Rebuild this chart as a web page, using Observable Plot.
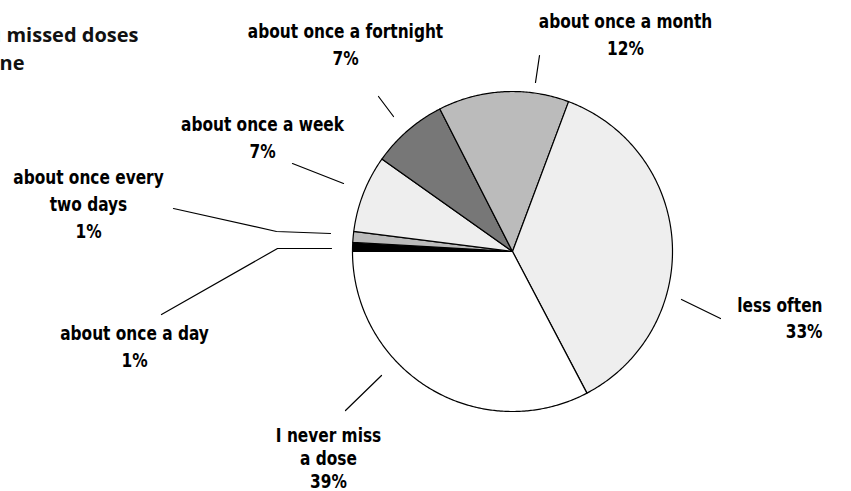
<!DOCTYPE html>
<html><head><meta charset="utf-8">
<script src="https://cdn.jsdelivr.net/npm/d3@7"></script>
<script src="https://cdn.jsdelivr.net/npm/@observablehq/plot@0.6"></script>
<style>
body{margin:0;background:#fff;}
#chart{position:relative;width:851px;height:491px;overflow:hidden;}
</style></head><body><div id="chart"></div>
<script>
// ---- data ----
const categories = ["about once a day","about once every two days","about once a week","about once a fortnight","about once a month","less often","I never miss a dose"];
// slice sizes as drawn in the picture (degrees of the pie converted to %)
const sliceShares = [0.9, 1.1, 7.8, 7.7, 13.2, 36.6, 32.7];
// percentages printed on the labels
const labelPercents = [1, 1, 7, 7, 12, 33, 39];
const labelNames = ["about once a day","about once every\ntwo days","about once a week","about once a fortnight","about once a month","less often","I never miss\na dose"];
const sliceFills = ["#000000","#bbbbbb","#eeeeee","#777777","#bbbbbb","#eeeeee","#ffffff"];
const titleLines = ["How often have you missed doses","of your medicine"];

// ---- layout ----
const W = 851, H = 491, cx = 512, cy = 251, R = 160;
const labelLayout = {
  "about once a day":          {x: 134, y: 344, anchor: "middle", lh: 1.42},
  "about once every two days": {x: 88,  y: 202, anchor: "middle", lh: 1.42},
  "about once a week":         {x: 262, y: 135, anchor: "middle", lh: 1.42},
  "about once a fortnight":    {x: 345, y: 42,  anchor: "middle", lh: 1.42},
  "about once a month":        {x: 625, y: 32,  anchor: "middle", lh: 1.42},
  "less often":                {x: 822, y: 316, anchor: "end",    lh: 1.38},
  "I never miss a dose":       {x: 328, y: 457, anchor: "middle", lh: 1.2}
};
const leaderLayout = {
  "about once a day":          [[161,314],[277,248],[331,248]],
  "about once every two days": [[173,208],[276,231],[330,233]],
  "about once a week":         [[292,163],[343,183]],
  "about once a fortnight":    [[378,96],[393,116]],
  "about once a month":        [[539,55],[535,82]],
  "less often":                [[681,299],[720,318]],
  "I never miss a dose":       [[381,375],[345,410]]
};
const titleLayout = [{x: 138, y: 35}, {x: 24, y: 63}];

// ---- build slices (clockwise from the left, going up first) ----
const total = d3.sum(sliceShares);
const slicePts = [];
let acc = 0;
categories.forEach((c, i) => {
  const a0 = acc / total * 2 * Math.PI;
  acc += sliceShares[i];
  const a1 = acc / total * 2 * Math.PI;
  const n = Math.max(2, Math.ceil((a1 - a0) / 0.01));
  slicePts.push({cat: c, fill: sliceFills[i], x: cx, y: cy});
  for (let k = 0; k <= n; k++) {
    const t = a0 + (a1 - a0) * k / n;
    slicePts.push({cat: c, fill: sliceFills[i], x: cx - R * Math.cos(t), y: cy - R * Math.sin(t)});
  }
  slicePts.push({cat: c, fill: sliceFills[i], x: cx, y: cy});
});

const labels = categories.map((c, i) => ({
  cat: c, text: labelNames[i] + "\n" + labelPercents[i] + "%", ...labelLayout[c]
}));
const leaders = categories.flatMap(c => leaderLayout[c].map(([x, y]) => ({cat: c, x, y})));
const titles = titleLines.map((t, i) => ({text: t, ...titleLayout[i]}));

const textOpts = {fontFamily: "'DejaVu Sans',sans-serif", fontWeight: "bold", fontSize: 19, fill: "#000", lineAnchor: "middle"};
const labelMarks = labels.map(d => Plot.text([d], {...textOpts, lineHeight: d.lh, x: "x", y: "y", text: "text", textAnchor: d.anchor}));

const plot = Plot.plot({
  width: W, height: H, margin: 0,
  x: {domain: [0, W], range: [0, W], axis: null},
  y: {domain: [0, H], range: [0, H], axis: null},
  color: {type: "identity"},
  style: {background: "#fff", overflow: "hidden"},
  marks: [
    Plot.line(slicePts, {x: "x", y: "y", z: "cat", fill: "fill", stroke: "#000", strokeWidth: 1.2, strokeLinejoin: "round"}),
    Plot.line(leaders, {x: "x", y: "y", z: "cat", stroke: "#000", strokeWidth: 1.2}),
    ...labelMarks,
    Plot.text(titles, {x: "x", y: "y", text: "text", textAnchor: "end", lineAnchor: "middle",
      fontFamily: "'Open Sans','Noto Sans',sans-serif", fontWeight: "bold", fontSize: 20, fill: "#111"})
  ]
});
// condense the label type horizontally (the original uses a bold condensed face)
Array.from(plot.querySelectorAll("text")).filter(t => t.textContent.includes("%")).forEach(t => {
  let X = 0, Y = 0;
  const tr = t.getAttribute("transform");
  const m = tr && tr.match(/translate\(\s*([-\d.e]+)[ ,]+([-\d.e]+)\s*\)/);
  if (m) { X = +m[1]; Y = +m[2]; }
  else { X = +(t.getAttribute("x") || 0); Y = +(t.getAttribute("y") || 0); }
  const g = document.createElementNS("http://www.w3.org/2000/svg", "g");
  g.setAttribute("transform", `translate(${X},${Y}) scale(0.81,1) translate(${-X},${-Y})`);
  t.parentNode.insertBefore(g, t);
  g.appendChild(t);
});
document.getElementById("chart").appendChild(plot);
</script></body></html>
